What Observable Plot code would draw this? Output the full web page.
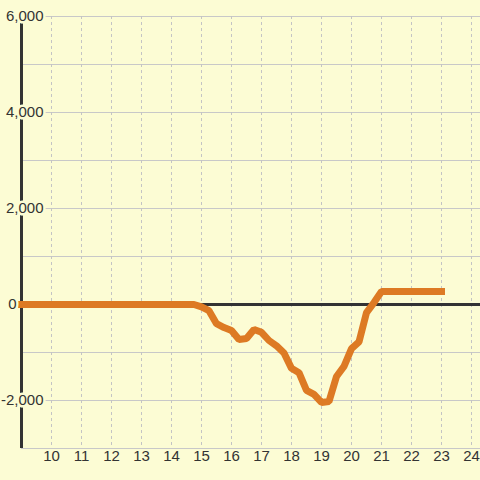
<!DOCTYPE html>
<html><head><meta charset="utf-8">
<script src="https://cdn.jsdelivr.net/npm/d3@7"></script>
<script src="https://cdn.jsdelivr.net/npm/@observablehq/plot@0.6"></script>
<style>body{margin:0;background:#fcfcd4;} svg{display:block;}</style>
</head><body><div id="chart"></div>
<script>
const xs = [9, 14.75, 15, 15.25, 15.5, 15.75, 16, 16.25, 16.5, 16.75, 17, 17.25, 17.5, 17.75, 18, 18.25, 18.5, 18.75, 19, 19.25, 19.5, 19.75, 20, 20.25, 20.5, 20.75, 21, 23];
const ys = [0, 0, -50, -130, -400, -480, -540, -730, -710, -520, -580, -750, -860, -1010, -1330, -1420, -1790, -1870, -2040, -2020, -1500, -1290, -920, -780, -170, 40, 270, 270];
const xTicks = [10, 11, 12, 13, 14, 15, 16, 17, 18, 19, 20, 21, 22, 23, 24];
const yTicks = [-2000, 0, 2000, 4000, 6000];
const yTickLabels = ["-2,000", "0", "2,000", "4,000", "6,000"];
const yGrid = [-3000, -2000, -1000, 0, 1000, 2000, 3000, 4000, 5000, 6000];

const data = xs.map((x, i) => ({x, y: ys[i]}));
const yLab = yTicks.map((v, i) => ({v, t: yTickLabels[i]}));
const bg = "#fcfcd4";

const chart = Plot.plot({
  width: 480, height: 480,
  marginLeft: 21, marginRight: 0, marginTop: 16, marginBottom: 32,
  style: {background: bg, fontFamily: "'Liberation Sans', Arial, sans-serif", color: "#333"},
  x: {domain: [9, 24.3], axis: null},
  y: {domain: [-3000, 6000], axis: null},
  marks: [
    Plot.ruleY(yGrid, {stroke: "#c8c8c8", strokeWidth: 1}),
    Plot.ruleX(xTicks, {stroke: "#c4c4c4", strokeWidth: 1, strokeDasharray: "3,3"}),
    Plot.ruleX([9], {stroke: "#333", strokeWidth: 3}),
    Plot.ruleY([0], {stroke: "#333", strokeWidth: 3}),
    Plot.line(data, {x: "x", y: "y", stroke: "#dd7a24", strokeWidth: 7, strokeLinecap: "square", strokeLinejoin: "miter"}),
    Plot.text(yLab.filter(d => d.v !== 0), {y: "v", text: "t", frameAnchor: "left", dx: 22, textAnchor: "end", fontSize: 15, fill: "#333", stroke: bg, strokeWidth: 5, paintOrder: "stroke"}),
    Plot.text(yLab.filter(d => d.v === 0), {y: "v", text: "t", frameAnchor: "left", dx: -5, textAnchor: "end", fontSize: 15, fill: "#333", stroke: bg, strokeWidth: 5, paintOrder: "stroke"}),
    Plot.text(xTicks, {x: d => d, text: d => String(d), frameAnchor: "bottom", dy: 12.5, fontSize: 15, fill: "#333"})
  ]
});
document.getElementById("chart").append(chart);
</script>
</body></html>
